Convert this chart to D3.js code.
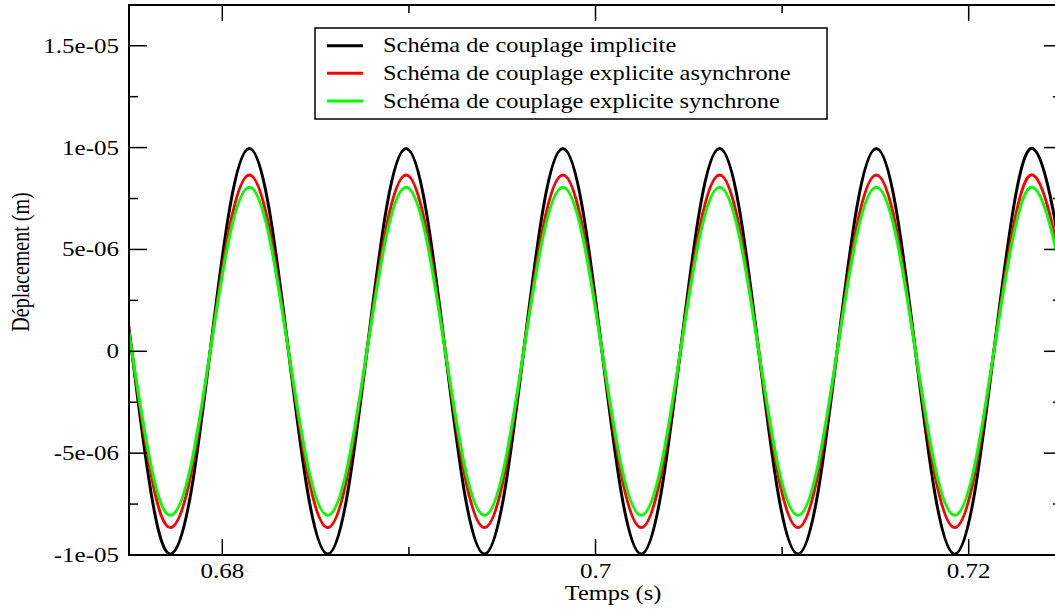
<!DOCTYPE html>
<html>
<head>
<meta charset="utf-8">
<script src="https://cdn.jsdelivr.net/npm/d3@7"></script>
<style>
  html, body { margin: 0; padding: 0; background: #fff; }
  svg { display: block; }
</style>
</head>
<body>
<svg id="chart" width="1055" height="609"></svg>
<script>
// Time samples (s)
const times = [
  0.675, 0.67515, 0.6762, 0.67725, 0.6783, 0.67935, 0.6804, 0.68145, 0.6825,
  0.68355, 0.6846, 0.68565, 0.6867, 0.68775, 0.6888, 0.68985, 0.6909,
  0.69195, 0.693, 0.69405, 0.6951, 0.69615, 0.6972, 0.69825, 0.6993,
  0.70035, 0.7014, 0.70245, 0.7035, 0.70455, 0.7056, 0.70665, 0.7077,
  0.70875, 0.7098, 0.71085, 0.7119, 0.71295, 0.714, 0.71505, 0.7161,
  0.71715, 0.7182, 0.71925, 0.7203, 0.72135, 0.7224, 0.72345, 0.7245,
  0.725
];

// Displacement in micrometres for each coupling scheme
const implicite = [
  1.11,
  0, -7.04, -9.95, -7.04, 0, 7.04, 9.95, 7.04,
  0, -7.04, -9.95, -7.04, 0, 7.04, 9.95, 7.04,
  0, -7.04, -9.95, -7.04, 0, 7.04, 9.95, 7.04,
  0, -7.04, -9.95, -7.04, 0, 7.04, 9.95, 7.04,
  0, -7.04, -9.95, -7.04, 0, 7.04, 9.95, 7.04,
  0, -7.04, -9.95, -7.04, 0, 7.04, 9.95, 7.04,
  3.98
];
const expliciteAsynchrone = [
  0.97,
  0, -6.12, -8.65, -6.12, 0, 6.12, 8.65, 6.12,
  0, -6.12, -8.65, -6.12, 0, 6.12, 8.65, 6.12,
  0, -6.12, -8.65, -6.12, 0, 6.12, 8.65, 6.12,
  0, -6.12, -8.65, -6.12, 0, 6.12, 8.65, 6.12,
  0, -6.12, -8.65, -6.12, 0, 6.12, 8.65, 6.12,
  0, -6.12, -8.65, -6.12, 0, 6.12, 8.65, 6.12,
  3.46
];
const expliciteSynchrone = [
  0.90,
  0, -5.69, -8.05, -5.69, 0, 5.69, 8.05, 5.69,
  0, -5.69, -8.05, -5.69, 0, 5.69, 8.05, 5.69,
  0, -5.69, -8.05, -5.69, 0, 5.69, 8.05, 5.69,
  0, -5.69, -8.05, -5.69, 0, 5.69, 8.05, 5.69,
  0, -5.69, -8.05, -5.69, 0, 5.69, 8.05, 5.69,
  0, -5.69, -8.05, -5.69, 0, 5.69, 8.05, 5.69,
  3.22
];

const seriesNames = [
  "Schéma de couplage implicite",
  "Schéma de couplage explicite asynchrone",
  "Schéma de couplage explicite synchrone"
];
const seriesColors = ["#000000", "#ff0000", "#00ff00"];
const seriesValues = [implicite, expliciteAsynchrone, expliciteSynchrone];

const xMajorTicks = [0.68, 0.7, 0.72];
const xTickLabels = ["0.68", "0.7", "0.72"];
const xMinorTicks = [0.69, 0.71];
const yMajorTicks = [-1e-5, -5e-6, 0, 5e-6, 1e-5, 1.5e-5];
const yTickLabels = ["-1e-05", "-5e-06", "0", "5e-06", "1e-05", "1.5e-05"];
const yMinorTicks = [-7.5e-6, -2.5e-6, 2.5e-6, 7.5e-6, 1.25e-5];

// Layout
const plot = { left: 129, right: 1062, top: 5, bottom: 555 };
const stretch = 1.22;   // glyphs are drawn horizontally widened
const serif = "'Liberation Serif', 'Times New Roman', Times, serif";

const svg = d3.select("#chart");

const x = d3.scaleLinear().domain([0.675, 0.725]).range([plot.left, plot.right]);
const y = d3.scaleLinear().domain([-1e-5, 1.7e-5]).range([plot.bottom, plot.top]);

svg.append("defs").append("clipPath").attr("id", "plotClip")
  .append("rect")
  .attr("x", plot.left).attr("y", plot.top)
  .attr("width", plot.right - plot.left).attr("height", plot.bottom - plot.top);

// Curves
const line = d3.line()
  .x(d => x(d[0]))
  .y(d => y(d[1] * 1e-6))
  .curve(d3.curveNatural);

const curves = svg.append("g").attr("clip-path", "url(#plotClip)");
seriesValues.forEach((vals, i) => {
  const pts = times.map((t, j) => [t, vals[j]]);
  curves.append("path")
    .datum(pts)
    .attr("d", line)
    .attr("fill", "none")
    .attr("stroke", seriesColors[i])
    .attr("stroke-width", 3)
    .attr("stroke-linejoin", "round");
});

// Frame
svg.append("rect")
  .attr("x", plot.left).attr("y", plot.top)
  .attr("width", plot.right - plot.left).attr("height", plot.bottom - plot.top)
  .attr("fill", "none").attr("stroke", "#000")
  .attr("stroke-width", 2);

// Ticks (inward, on all four sides)
const tk = svg.append("g").attr("stroke", "#000").attr("stroke-width", 1.5);
const xMajLen = 16, xMinLen = 8, yMajLen = 18, yMinLen = 9;
xMajorTicks.forEach(v => {
  tk.append("line").attr("x1", x(v)).attr("x2", x(v)).attr("y1", plot.bottom).attr("y2", plot.bottom - xMajLen);
  tk.append("line").attr("x1", x(v)).attr("x2", x(v)).attr("y1", plot.top).attr("y2", plot.top + xMajLen);
});
xMinorTicks.forEach(v => {
  tk.append("line").attr("x1", x(v)).attr("x2", x(v)).attr("y1", plot.bottom).attr("y2", plot.bottom - xMinLen);
  tk.append("line").attr("x1", x(v)).attr("x2", x(v)).attr("y1", plot.top).attr("y2", plot.top + xMinLen);
});
yMajorTicks.forEach(v => {
  tk.append("line").attr("y1", y(v)).attr("y2", y(v)).attr("x1", plot.left).attr("x2", plot.left + yMajLen);
  tk.append("line").attr("y1", y(v)).attr("y2", y(v)).attr("x1", plot.right).attr("x2", plot.right - yMajLen);
});
yMinorTicks.forEach(v => {
  tk.append("line").attr("y1", y(v)).attr("y2", y(v)).attr("x1", plot.left).attr("x2", plot.left + yMinLen);
  tk.append("line").attr("y1", y(v)).attr("y2", y(v)).attr("x1", plot.right).attr("x2", plot.right - yMinLen);
});

// Tick labels
const fs = 20.5;
xMajorTicks.forEach((v, i) => {
  svg.append("text")
    .attr("transform", `translate(${x(v)},578) scale(${stretch},1)`)
    .attr("text-anchor", "middle")
    .attr("font-family", serif)
    .attr("font-size", fs)
    .text(xTickLabels[i]);
});
yMajorTicks.forEach((v, i) => {
  svg.append("text")
    .attr("transform", `translate(119,${y(v) + 7}) scale(${stretch},1)`)
    .attr("text-anchor", "end")
    .attr("font-family", serif)
    .attr("font-size", fs)
    .text(yTickLabels[i]);
});

// Axis titles
svg.append("text")
  .attr("transform", `translate(613,600) scale(${stretch},1)`)
  .attr("text-anchor", "middle")
  .attr("font-family", serif)
  .attr("font-size", 20)
  .text("Temps (s)");
svg.append("text")
  .attr("transform", `translate(29,262) rotate(-90) scale(1,${stretch})`)
  .attr("text-anchor", "middle")
  .attr("font-family", serif)
  .attr("font-size", 20)
  .text("Déplacement (m)");

// Legend
const legend = svg.append("g");
legend.append("rect")
  .attr("x", 315).attr("y", 28).attr("width", 512).attr("height", 91)
  .attr("fill", "#fff").attr("stroke", "#000").attr("stroke-width", 1.5);
const rowY = [45.7, 73.3, 101];
seriesNames.forEach((name, i) => {
  legend.append("line")
    .attr("x1", 327).attr("x2", 363)
    .attr("y1", rowY[i]).attr("y2", rowY[i])
    .attr("stroke", seriesColors[i]).attr("stroke-width", 3);
  legend.append("text")
    .attr("transform", `translate(383,${rowY[i] + 6.5}) scale(${stretch},1)`)
    .attr("font-family", serif)
    .attr("font-size", 20)
    .text(name);
});
</script>
</body>
</html>
